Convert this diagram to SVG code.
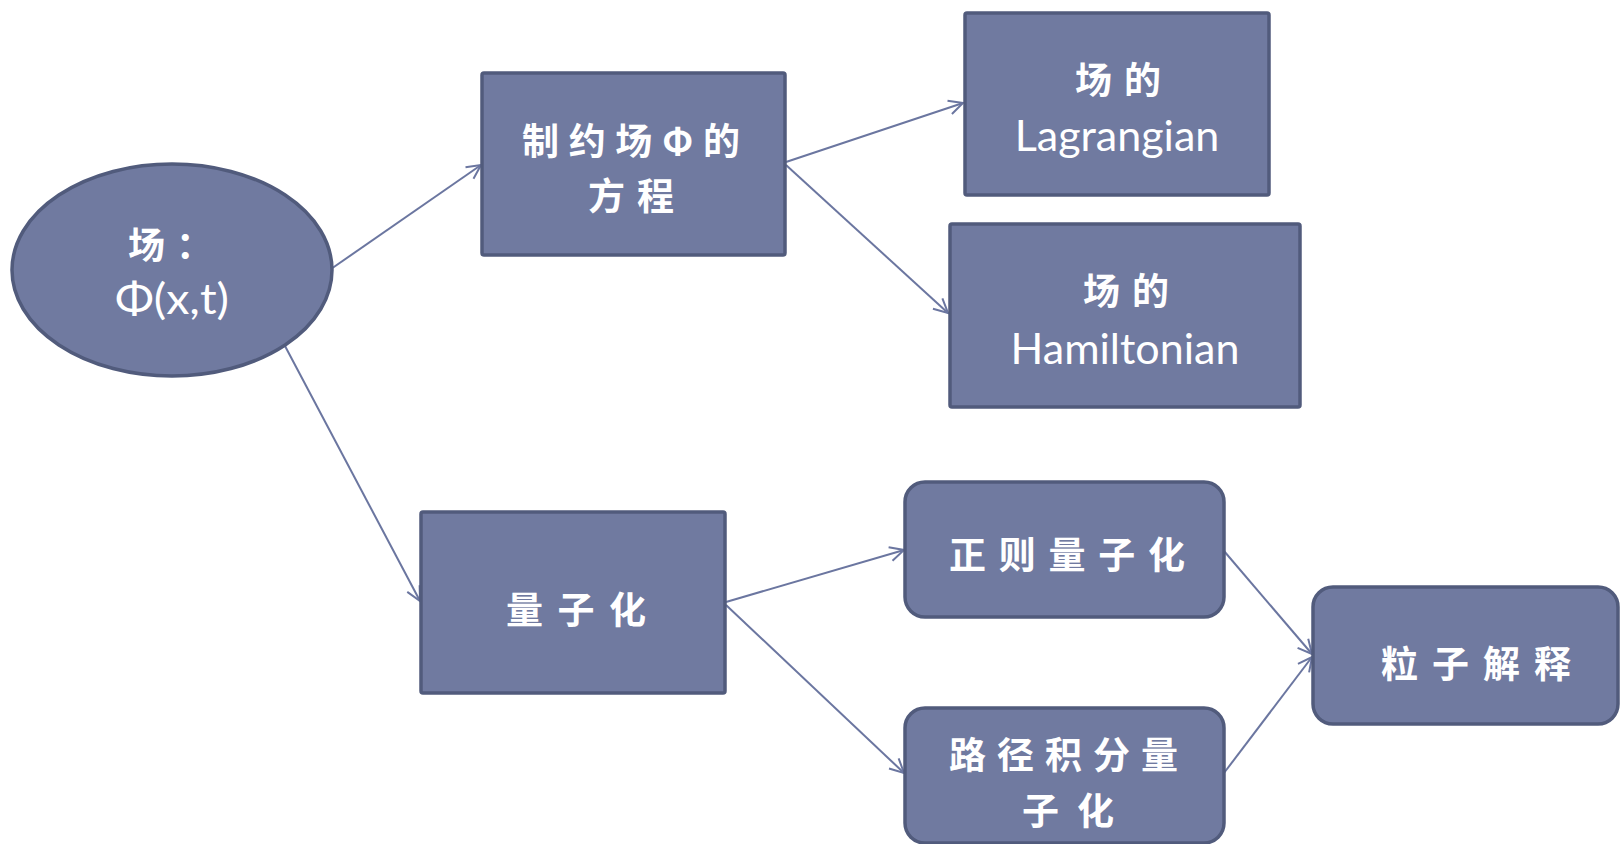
<svg xmlns="http://www.w3.org/2000/svg" width="1621" height="844" viewBox="0 0 1621 844">
<style>
.n{fill:#707aa0;stroke:#515b7c;stroke-width:3.5}
.cj{font-family:"Noto Sans CJK SC",sans-serif;font-weight:bold;fill:#ffffff;font-size:37px}
.la{font-family:"Lato","Open Sans",sans-serif;fill:#ffffff;font-size:43px;text-anchor:middle}
.c{stroke:#6b76a0;stroke-width:2;fill:none;marker-end:url(#ah)}
</style>
<defs>
<marker id="ah" markerUnits="userSpaceOnUse" markerWidth="20" markerHeight="20" refX="14" refY="7" orient="auto" overflow="visible">
<path d="M0,0 L14,7 L0,14" fill="none" stroke="#6b76a0" stroke-width="2"/>
</marker>
</defs>
<rect width="1621" height="844" fill="#ffffff"/>
<g id="connectors">
<line class="c" x1="331" y1="269" x2="481" y2="165"/>
<line class="c" x1="786" y1="162" x2="963" y2="103"/>
<line class="c" x1="786" y1="165" x2="948" y2="313"/>
<line class="c" x1="285" y1="346" x2="420" y2="601"/>
<line class="c" x1="726" y1="602" x2="904" y2="550"/>
<line class="c" x1="726" y1="605" x2="904" y2="773"/>
<line class="c" x1="1224" y1="551" x2="1312" y2="654"/>
<line class="c" x1="1224" y1="773" x2="1312" y2="657"/>
</g>
<g id="field">
<ellipse class="n" cx="172" cy="270" rx="160" ry="106"/>
<text class="cj" x="128" y="259">场<tspan x="176">：</tspan></text>
<text class="la" x="172" y="314" textLength="114" lengthAdjust="spacingAndGlyphs">Φ(x,t)</text>
</g>
<g id="constraint">
<rect class="n" x="482" y="73" width="303" height="182" rx="2"/>
<text class="cj" x="522" y="155" textLength="218">制约场Φ的</text>
<text class="cj" x="588" y="210" textLength="86">方程</text>
</g>
<g id="lagrangian">
<rect class="n" x="965" y="13" width="304" height="182" rx="2"/>
<text class="cj" x="1075" y="94" textLength="86">场的</text>
<text class="la" x="1117" y="151">Lagrangian</text>
</g>
<g id="hamiltonian">
<rect class="n" x="950" y="224" width="350" height="183" rx="2"/>
<text class="cj" x="1083" y="305" textLength="86">场的</text>
<text class="la" x="1125" y="364" font-size="45">Hamiltonian</text>
</g>
<g id="quantization">
<rect class="n" x="421" y="512" width="304" height="181" rx="2"/>
<text class="cj" x="506" y="624" textLength="140">量子化</text>
</g>
<g id="canonical">
<rect class="n" x="905" y="482" width="319" height="135" rx="20"/>
<text class="cj" x="949" y="569" textLength="236">正则量子化</text>
</g>
<g id="pathintegral">
<rect class="n" x="905" y="708" width="319" height="135" rx="20"/>
<text class="cj" x="949" y="769" textLength="229">路径积分量</text>
<text class="cj" x="1022" y="825" textLength="92">子化</text>
</g>
<g id="particle">
<rect class="n" x="1313" y="587" width="305" height="137" rx="20"/>
<text class="cj" x="1381" y="678" textLength="190">粒子解释</text>
</g>
</svg>
